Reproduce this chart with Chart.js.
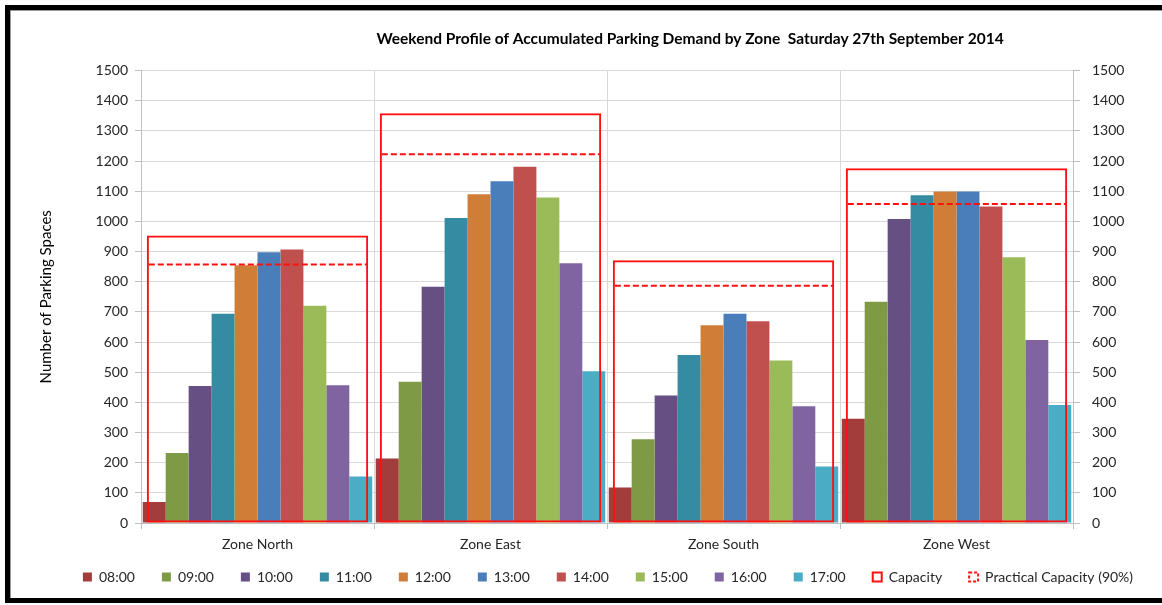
<!DOCTYPE html>
<html>
<head>
<meta charset="utf-8">
<title>Weekend Profile of Accumulated Parking Demand</title>
<script src="https://cdn.jsdelivr.net/npm/chart.js@4.4.1/dist/chart.umd.min.js"></script>
<style>
  html, body { margin: 0; padding: 0; background: #fff; }
  #wrap { position: relative; width: 1162px; height: 605px; overflow: hidden; }
  #frame {
    position: absolute; left: 5px; top: 5px; width: 1170px; height: 588px;
    border-top: 5px solid #000; border-left: 5px solid #000; border-bottom: 5px solid #000;
    box-shadow: inset 1px 1px 0 #9a9a9a;
    pointer-events: none;
  }
</style>
</head>
<body>
<div id="wrap">
  <canvas id="parkingChart"></canvas>
  <div id="frame"></div>
</div>
<script>
var zones = ['Zone North', 'Zone East', 'Zone South', 'Zone West'];
var hours = ['08:00', '09:00', '10:00', '11:00', '12:00', '13:00', '14:00', '15:00', '16:00', '17:00'];

// accumulated demand per zone, one array per hour
var h0800 = [70, 214, 118, 346];
var h0900 = [232, 468, 278, 734];
var h1000 = [454, 783, 423, 1008];
var h1100 = [694, 1011, 557, 1087];
var h1200 = [855, 1090, 656, 1099];
var h1300 = [898, 1133, 694, 1099];
var h1400 = [907, 1181, 669, 1049];
var h1500 = [720, 1079, 539, 881];
var h1600 = [457, 861, 387, 607];
var h1700 = [154, 503, 187, 391];

var capacity = [953, 1359, 871, 1176];
var practicalCapacity = [857, 1223, 787, 1058];

var yMin = 0, yMax = 1500, yStep = 100;

var hourColors = ['#A23D3C', '#7E9A45', '#654F83', '#358BA1', '#D07E37', '#4A7EBB', '#C0504D', '#9BBB59', '#8064A2', '#4BACC6'];
var capColor = '#FF1010';
var fontFam = 'Lato, "Open Sans", sans-serif';
var PRACTICAL = 'Practical Capacity (90%)';

var hourData = [h0800, h0900, h1000, h1100, h1200, h1300, h1400, h1500, h1600, h1700];
var datasets = [];
for (var i = 0; i < hours.length; i++) {
  datasets.push({
    type: 'bar',
    label: hours[i],
    data: hourData[i],
    backgroundColor: hourColors[i],
    borderWidth: 0,
    categoryPercentage: 0.985,
    barPercentage: 1,
    order: 0
  });
}

// capacity box: not grouped, so it sits over the whole zone
datasets.push({
  type: 'bar',
  label: 'Capacity',
  data: capacity,
  grouped: false,
  backgroundColor: 'rgba(255,255,255,0)',
  borderColor: capColor,
  borderWidth: 2,
  borderSkipped: false,
  categoryPercentage: 1,
  barPercentage: 0.95,
  order: -1
});

// 90% line: invisible bars, their tops are stroked dashed by the plugin below
datasets.push({
  type: 'bar',
  label: PRACTICAL,
  data: practicalCapacity,
  grouped: false,
  backgroundColor: 'rgba(255,255,255,0)',
  borderWidth: 0,
  categoryPercentage: 1,
  barPercentage: 0.95,
  order: -2
});

var practicalLine = {
  id: 'practicalLine',
  afterDatasetsDraw: function (chart) {
    var idx = chart.data.datasets.length - 1;
    if (!chart.isDatasetVisible(idx)) return;
    var ctx = chart.ctx;
    ctx.save();
    ctx.strokeStyle = capColor;
    ctx.lineWidth = 2;
    ctx.setLineDash([6, 3]);
    chart.getDatasetMeta(idx).data.forEach(function (el) {
      ctx.beginPath();
      ctx.moveTo(el.x - el.width / 2 + 2, el.y);
      ctx.lineTo(el.x + el.width / 2 - 1, el.y);
      ctx.stroke();
    });
    ctx.restore();
  }
};

// move title and legend to where the original had them
var shiftBoxes = {
  id: 'shiftBoxes',
  afterLayout: function (chart) {
    var ca = chart.chartArea;
    var mid = (ca.left + ca.right) / 2;
    var t = chart.titleBlock;
    var dt = (mid + 83) - (t.left + t.right) / 2;
    t.left += dt; t.right += dt;
    var lg = chart.legend;
    var dl = (mid + 1) - (lg.left + lg.right) / 2;
    lg.left += dl; lg.right += dl;
    var dy = (ca.bottom + 20) - lg.top;
    lg.top += dy; lg.bottom += dy;
  }
};

var tickFont = { family: fontFam, size: 14 };
var plainTick = function (v) { return String(v); };

new Chart(document.getElementById('parkingChart'), {
  data: { labels: zones, datasets: datasets },
  plugins: [practicalLine, shiftBoxes],
  options: {
    responsive: true,
    maintainAspectRatio: false,
    animation: false,
    layout: { padding: { left: 30, right: 0, top: 0, bottom: 1 } },
    plugins: {
      title: {
        display: true,
        text: 'Weekend Profile of Accumulated Parking Demand by Zone  Saturday 27th September 2014',
        color: '#000',
        font: { family: fontFam, size: 15.5, weight: 'bold' },
        padding: { top: 30, bottom: 22 }
      },
      legend: {
        position: 'bottom',
        labels: {
          boxWidth: 9,
          boxHeight: 9,
          padding: 27,
          color: '#262626',
          font: { family: fontFam, size: 14 },
          sort: function (a, b) { return a.datasetIndex - b.datasetIndex; },
          generateLabels: function (chart) {
            var items = Chart.defaults.plugins.legend.labels.generateLabels(chart);
            items.forEach(function (it) {
              if (it.text === PRACTICAL) {
                it.strokeStyle = capColor;
                it.lineWidth = 2;
                it.lineDash = [3, 2];
              }
            });
            return items;
          }
        }
      },
      tooltip: { enabled: false }
    },
    scales: {
      x: {
        type: 'category',
        offset: true,
        grid: { offset: true, color: '#D9D9D9', tickLength: 6, tickColor: '#BFBFBF' },
        border: { color: '#BFBFBF' },
        ticks: { color: '#262626', font: tickFont, padding: 7 },
        afterFit: function (s) { s.height = 30; }
      },
      y: {
        position: 'left',
        min: yMin,
        max: yMax,
        ticks: { stepSize: yStep, color: '#262626', font: tickFont, padding: 7, callback: plainTick },
        grid: { color: '#D9D9D9', tickLength: 6, tickColor: '#BFBFBF' },
        border: { color: '#BFBFBF' },
        title: {
          display: true,
          text: 'Number of Parking Spaces',
          color: '#000',
          font: { family: fontFam, size: 15 },
          padding: { top: 7, bottom: 0 }
        },
        afterFit: function (s) { s.width = 111; }
      },
      y2: {
        position: 'right',
        min: yMin,
        max: yMax,
        ticks: { stepSize: yStep, color: '#262626', font: tickFont, padding: 12, callback: plainTick },
        grid: { drawOnChartArea: false, tickLength: 7, tickColor: '#BFBFBF' },
        border: { color: '#BFBFBF' },
        afterFit: function (s) { s.width = 89; }
      }
    }
  }
});
</script>
</body>
</html>
